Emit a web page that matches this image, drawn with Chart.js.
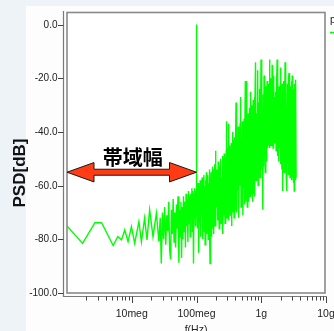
<!DOCTYPE html>
<html><head><meta charset="utf-8">
<script src="https://cdn.jsdelivr.net/npm/chart.js@4"></script>
<style>
html,body{margin:0;padding:0;background:#eef3f7;overflow:hidden}
canvas{display:block}
</style></head><body>
<canvas id="c" width="334" height="331"></canvas>
<script>
// ---- data (frequency in MHz, PSD in dB) ----
const freqSparse = [1.0,1.74,2.7,3.42,5.16,6.09,6.94,7.8,8.77,9.89,11.1,12.9,14.1,15.8,17.2,18.9,21.3,24.0,26.3];
const psdSparse  = [-75,-81.5,-73.8,-73.8,-82.3,-79,-80.2,-76.5,-80.9,-75.3,-81.5,-73.4,-80.9,-72.1,-80.2,-69,-79,-70.3,-80.9];

const freqLowBand = [27.5,28.6,29.8,31.0,32.2,33.5,34.8,36.0,37.2,38.5,39.8,41.0,42.3,43.6,45.0,46.3,47.6,49.0,50.4,51.8,53.4,54.8,56.2,57.5,58.8,60.2,61.6,63.0,64.5,66.0,67.5,69.0,70.5,72.0,73.6,75.2,76.8,78.4,80.0,81.6,83.2,84.8,86.4,88.0,89.9,91.5,93.0,94.6,96.2,97.8,99.0,100,101];
const psdLowBand  = [-72,-89,-70,-80,-68,-82,-71,-77,-66,-84,-87.5,-69,-78,-65,-81,-70,-83,-67,-76,-64,-88.7,-69,-79,-66,-87,-68,-80,-64,-77,-66,-83,-63,-75,-65,-81,-62,-74,-64,-79,-63,-72,-61,-77,-62,-89,-63,-71,-61,-75,-62,-64,0,-61];

const freqSeg3 = [102,104,106,108,110,112,114,116,118,120,122,124,126,128,130,132,134,136,138,140,142,144,146,148,150,152,154,156,158,160,162,164,166,168,170,172,174,176,178,180,182,184,186,188,190,192,194,196,198,200];
const psdSeg3  = [-66,-76,-59,-85,-62,-74,-58,-79,-63,-71,-57,-80,-61,-73,-56,-77,-60,-82,-58,-70,-55,-78,-62,-72,-56,-80,-59,-74,-54,-77,-89,-57,-73,-55,-79,-60,-71,-53,-76,-58,-70,-54,-78,-57,-72,-52,-75,-47,-70,-55];

const freqSeg4 = [204,208,212,216,220,224,228,232,236,240,244,248,252,256,260,264,268,272,276,280,284,288,292,296,300,304,308,312,316,320,324,328,332,336,340,344,348,352,356,360,364,368,372,376,380,384,388,392,396,400];
const psdSeg4  = [-68,-54,-73,-51,-66,-76,-53,-70,-50,-74,-57,-69,-49,-78,-55,-71,-48,-67,-74,-52,-69,-47,-36,-72,-55,-68,-46,-37,-73,-52,-66,-45,-71,-54,-68,-44,-75,-50,-65,-40,-70,-47,-67,-43,-72,-51,-64,-42,-69,-46];

const freqSeg5 = [408,416,424,432,440,448,456,464,472,480,488,496,504,512,520,528,536,544,552,560,568,576,584,592,600,608,616,624,632,640,648,656,664,672,680,688,696,704,712,720,728,736,744,752,760,768,776,784,792,800];
const psdSeg5  = [-29,-70,-44,-62,-38,-72,-47,-60,-37,-27,-68,-45,-58,-36,-71,-48,-61,-35,-67,-42,-21,-66,-44,-57,-21,-68,-40,-59,-33,-66,-46,-55,-31,-64,-39,-25,-63,-43,-56,-30,-66,-38,-53,-28,-63,-41,-52,-27,-64,-35];

const freqSeg6 = [816,832,848,864,880,896,912,928,944,960,976,992,1008,1024,1040,1056,1072,1088,1104,1120,1136,1152,1168,1184,1200,1216,1232,1248,1264,1280,1296,1312,1328,1344,1360,1376,1392,1408,1424,1440,1456,1472,1488,1504,1520,1536,1552,1568,1584,1600];
const psdSeg6  = [-14,-58,-33,-52,-17,-60,-29,-50,-24,-57,-35,-13,-54,-31,-48,-69,-26,-53,-19,-49,-30,-55,-23,-47,-34,-51,-21,-46,-29,-44,-22,-45,-33,-13,-46,-26,-44,-20,-45,-31,-43,-15,-44,-24,-46,-30,-45,-19,-43,-27];

const freqSeg7 = [1632,1664,1696,1728,1760,1792,1824,1856,1888,1920,1952,1984,2016,2048,2080,2112,2144,2176,2208,2240,2272,2304,2336,2368,2400,2432,2464,2496,2528,2560,2592,2624,2656,2688,2720,2752,2784,2816,2848,2880,2912,2944,2976,3008,3040,3072,3104,3136,3168,3200,3232,3264,3296,3328,3360,3392,3424,3456];
const psdSeg7  = [-44,-25,-47,-21,-13,-49,-28,-51,-23,-46,-33,-16,-52,-26,-54,-22,-62,-30,-50,-21,-55,-27,-14,-53,-24,-57,-31,-62,-22,-52,-28,-56,-20,-18,-54,-29,-57,-23,-51,-33,-55,-21,-58,-19,-53,-27,-56,-24,-59,-30,-62,-22,-55,-26,-58,-21,-20.5,-57];

const yTickValues = [0,-20,-40,-60,-80,-100];
const yTickLabels = ['0.0','-20.0','-40.0','-60.0','-80.0','-100.0'];
const xTickValues = [10,100,1000,10000];
const xTickLabels = ['10meg','100meg','1g','10g'];
const seriesName = 'p';
const yTitle = 'PSD[dB]';
const xTitle = 'f(Hz)';
const bandLabel = '帯域幅';
const bandStart = 1, bandEnd = 100, bandLevel = -55;

const freqMHz = [].concat(freqSparse,freqLowBand,freqSeg3,freqSeg4,freqSeg5,freqSeg6,freqSeg7);
const psdDb   = [].concat(psdSparse,psdLowBand,psdSeg3,psdSeg4,psdSeg5,psdSeg6,psdSeg7);
const points = freqMHz.map((f,i)=>({x:f,y:psdDb[i]}));

const FONT = '"Liberation Sans", Arial, sans-serif';

const deco = {
  id:'deco',
  beforeDraw(chart){
    const c = chart.ctx;
    c.save();
    c.fillStyle = '#eef3f7';
    c.fillRect(0,0,chart.width,chart.height);
    c.fillStyle = '#fdfdfd';
    c.fillRect(26,6,chart.width-26,chart.height-6);
    c.fillStyle = '#ffffff';
    const a = chart.chartArea;
    c.fillRect(a.left, a.top, a.right-a.left, a.bottom-a.top);
    c.restore();
  },
  afterDatasetsDraw(chart){
    const c = chart.ctx, a = chart.chartArea;
    const xs = chart.scales.x, ys = chart.scales.y;
    c.save();
    // frame
    c.strokeStyle = '#8a8a8a';
    c.lineWidth = 1.6;
    c.strokeRect(67, 12.5, 325-67, 293-12.5);
    // axis lines
    c.strokeStyle = '#7a7a7a';
    c.lineWidth = 1.2;
    c.beginPath();
    c.moveTo(63.5, 11); c.lineTo(63.5, 297);
    c.moveTo(63.5, 296.5); c.lineTo(326.5, 296.5);
    c.stroke();
    // y ticks + labels
    c.strokeStyle = '#444';
    c.lineWidth = 1;
    c.fillStyle = '#222';
    c.font = '10px ' + FONT;
    c.textAlign = 'right';
    c.textBaseline = 'middle';
    yTickValues.forEach((v,i)=>{
      const py = Math.round(ys.getPixelForValue(v)) + 0.5;
      c.beginPath(); c.moveTo(58, py); c.lineTo(63.5, py); c.stroke();
      c.fillText(yTickLabels[i], 57.5, py);
    });
    // x ticks (minor + major)
    c.beginPath();
    for (let d = 1; d < 10000; d *= 10) {
      for (let m = 2; m <= 9; m++) {
        const px = Math.round(xs.getPixelForValue(d*m)) + 0.5;
        c.moveTo(px, 296.5); c.lineTo(px, 300.5);
      }
    }
    xTickValues.forEach(v=>{
      const px = Math.round(xs.getPixelForValue(v)) + 0.5;
      c.moveTo(px, 296.5); c.lineTo(px, 303);
    });
    c.stroke();
    c.font = '10.5px ' + FONT;
    c.textAlign = 'center';
    c.textBaseline = 'middle';
    xTickValues.forEach((v,i)=>{
      c.fillText(xTickLabels[i], xs.getPixelForValue(v), 314.5);
    });
    // x title
    c.textBaseline = 'alphabetic';
    c.fillText(xTitle, (a.left + 325)/2, 333);
    // y title
    c.save();
    c.translate(25, 173);
    c.rotate(-Math.PI/2);
    c.font = 'bold 17px ' + FONT;
    c.fillStyle = '#111';
    c.textAlign = 'center';
    c.textBaseline = 'alphabetic';
    c.fillText(yTitle, 0, 0);
    c.restore();
    // legend
    c.font = '10.5px ' + FONT;
    c.textAlign = 'left';
    c.fillStyle = '#222';
    c.fillText(seriesName, 330, 23);
    c.strokeStyle = '#00ff00';
    c.lineWidth = 1.5;
    c.beginPath(); c.moveTo(330, 32.5); c.lineTo(334, 32.5); c.stroke();
    // band arrow
    const xl = xs.getPixelForValue(bandStart), xr = xs.getPixelForValue(bandEnd);
    const yc = ys.getPixelForValue(bandLevel);
    const hl = 27, hh = 9.7, st = 3;
    c.beginPath();
    c.moveTo(xl, yc);
    c.lineTo(xl+hl, yc-hh); c.lineTo(xl+hl, yc-st);
    c.lineTo(xr-hl, yc-st); c.lineTo(xr-hl, yc-hh);
    c.lineTo(xr, yc);
    c.lineTo(xr-hl, yc+hh); c.lineTo(xr-hl, yc+st);
    c.lineTo(xl+hl, yc+st); c.lineTo(xl+hl, yc+hh);
    c.closePath();
    c.fillStyle = '#ff3c14';
    c.fill();
    c.strokeStyle = '#1a1a1a';
    c.lineWidth = 1;
    c.stroke();
    // band label
    c.font = 'bold 20px "Noto Sans CJK JP", sans-serif';
    c.fillStyle = '#000';
    c.textAlign = 'center';
    c.textBaseline = 'middle';
    c.fillText(bandLabel, (xl+xr)/2 + 1, yc - 15);
    c.restore();
  }
};

new Chart(document.getElementById('c').getContext('2d'), {
  type: 'line',
  data: { datasets: [{
    label: seriesName,
    data: points,
    borderColor: '#00ff00',
    borderWidth: 1.4,
    pointRadius: 0,
    tension: 0,
    fill: false
  }]},
  options: {
    responsive: false,
    animation: false,
    devicePixelRatio: 1,
    events: [],
    layout: { padding: { left: 67, right: 8, top: 12, bottom: 38 } },
    plugins: { legend: { display: false }, tooltip: { enabled: false } },
    scales: {
      x: { type: 'logarithmic', min: 1, max: 10000, display: false },
      y: { type: 'linear', min: -100, max: 4.7, display: false }
    }
  },
  plugins: [deco]
});
</script>
</body></html>
